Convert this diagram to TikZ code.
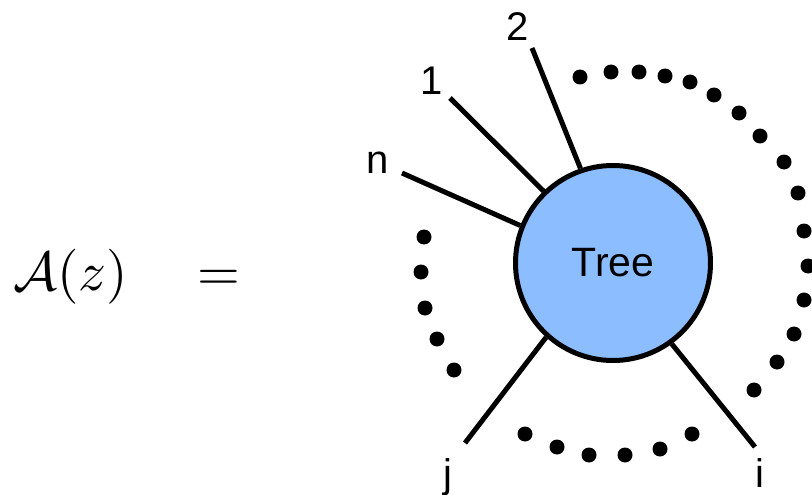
\documentclass[tikz,border=0pt]{standalone}
\usepackage{fontspec}
\setsansfont{Liberation Sans}
\definecolor{treeblue}{RGB}{140,190,255}
\begin{document}
\begin{tikzpicture}[x=1pt,y=-1pt,
  leg/.style={line width=5pt},
  lbl/.style={font=\sffamily\fontsize{40}{44}\selectfont, anchor=base, inner sep=0pt},
  mathlbl/.style={inner sep=0pt, scale=5.5},
  blob/.style={circle, draw, line width=5pt, fill=treeblue, minimum size=195pt, inner sep=0pt,
    font=\sffamily\fontsize{41}{45}\selectfont},
  dotfill/.style={fill=black}]
\useasboundingbox (0,0) rectangle (812,495);
\node[mathlbl, anchor=base west] (amp) at (12,290) {$\mathcal{A}(z)$};
\node[mathlbl, anchor=base] (eq) at (219,290) {$=$};
\node[blob] (tree) at (613,263) {Tree};
\coordinate (cn) at (402,173);
\coordinate (c1) at (450,98);
\coordinate (c2) at (532,48);
\coordinate (cj) at (465,443);
\coordinate (ci) at (755,447);
\draw[leg] (cn) -- (tree.158.8);
\draw[leg] (c1) -- (tree.134.6);
\draw[leg] (c2) -- (tree.109.7);
\draw[leg] (cj) -- (tree.228.7);
\draw[leg] (ci) -- (tree.306.9);
\node[lbl] (l2) at (518,41) {2};
\node[lbl] (l1) at (432,95) {1};
\node[lbl] (ln) at (378,173) {n};
\node[lbl] (lj) at (448,487) {j};
\node[lbl] (li) at (760,487) {i};
\foreach \px/\py in {580/77,611/72,639/72,665/76,690/82,714/95,739/113,760/136,784/162,798/193,804/231,808/266,804/300,794/334,777/362,754/390,
  424/237,421/272,425/308,437/339,454/370,
  525/434,557/447,589/455,625/455,660/449,692/434}
  \fill[dotfill] (\px,\py) circle[radius=7.5];
\end{tikzpicture}
\end{document}
